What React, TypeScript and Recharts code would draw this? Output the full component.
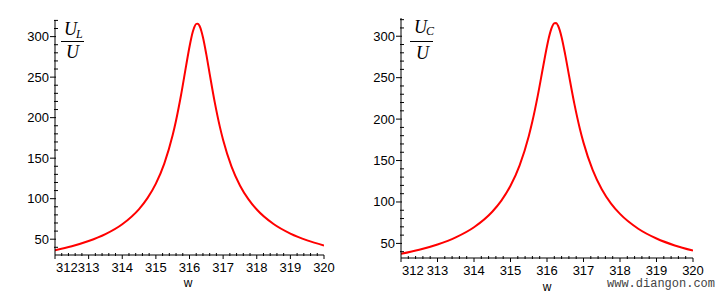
import { LineChart, Line, XAxis, YAxis } from "recharts";

// angular frequency w and the two voltage ratios
const omega = [
  312, 312.5, 313, 313.5, 314, 314.5, 314.75, 315, 315.25, 315.5, 315.6, 315.75, 315.9, 316, 316.05,
  316.1, 316.15, 316.2, 316.25, 316.3, 316.35, 316.4, 316.5, 316.6, 316.75, 316.9, 317, 317.25, 317.5,
  317.75, 318, 318.5, 319, 319.5, 320,
];
const ulRatio = [
  36.4, 41.3, 47.7, 56.3, 68.5, 87.2, 100.7, 118.6, 143.3, 178.5, 196.5, 228.2, 264.2, 287.5, 297.7,
  306.2, 312.4, 315.7, 315.9, 313.1, 307.3, 299.2, 278.0, 254.0, 219.1, 189.2, 172.4, 139.6, 116.3,
  99.4, 86.6, 68.7, 56.9, 48.5, 42.3,
];
const ucRatio = [
  37.4, 42.3, 48.7, 57.3, 69.5, 88.2, 101.6, 119.5, 144.2, 179.4, 197.3, 228.9, 264.7, 287.9, 298.1,
  306.5, 312.5, 315.8, 315.9, 312.9, 307.1, 298.9, 277.5, 253.4, 218.4, 188.4, 171.6, 138.7, 115.4,
  98.4, 85.6, 67.7, 55.9, 47.5, 41.3,
];

const xMajor = [312, 313, 314, 315, 316, 317, 318, 319, 320];
const yMajor = [50, 100, 150, 200, 250, 300];

const xTicks: number[] = [];
for (let i = 0; i <= 40; i++) xTicks.push(Math.round((312 + i * 0.2) * 10) / 10);
const yTicks: number[] = [];
for (let v = 40; v <= 320; v += 10) yTicks.push(v);

const ulData = omega.map((w, i) => ({ w, v: ulRatio[i] }));
const ucData = omega.map((w, i) => ({ w, v: ucRatio[i] }));

const FONT = "'Liberation Sans', Arial, sans-serif";

function XTick(props: any) {
  const { x, y, payload } = props;
  const v = payload.value;
  const major = xMajor.includes(v);
  if (!major) return <line x1={x} x2={x} y1={y - 2} y2={y + 1} stroke="#000" />;
  const first = v === xMajor[0];
  return (
    <g>
      <line x1={x} x2={x} y1={y} y2={y + 4} stroke="#000" />
      <text x={first ? x + 1 : x} y={y + 17} textAnchor={first ? "start" : "middle"}
        fontSize={13} fontFamily={FONT} fill="#000">{v}</text>
    </g>
  );
}

function YTick(props: any) {
  const { x, y, payload } = props;
  const v = payload.value;
  if (!yMajor.includes(v)) return <line x1={x - 1} x2={x + 3} y1={y} y2={y} stroke="#000" />;
  return (
    <g>
      <line x1={x - 5} x2={x + 1} y1={y} y2={y} stroke="#000" />
      <text x={x - 6} y={y + 4.5} textAnchor="end" fontSize={13} fontFamily={FONT} fill="#000">{v}</text>
    </g>
  );
}

function Panel({ data, yw, top, right, bottom, domain }: any) {
  return (
    <LineChart width={361} height={302} data={data} margin={{ top, right, bottom: 0, left: 0 }}>
      <XAxis dataKey="w" type="number" domain={[312, 320]} ticks={xTicks} interval={0}
        height={bottom} tickSize={0} tickMargin={0} tick={<XTick />}
        axisLine={{ stroke: "#000" }} allowDataOverflow />
      <YAxis type="number" domain={domain} ticks={yTicks} interval={0} width={yw}
        tickSize={0} tickMargin={0} tick={<YTick />} axisLine={{ stroke: "#000" }} allowDataOverflow />
      <Line type="monotone" dataKey="v" stroke="#ff0000" strokeWidth={2} dot={false}
        isAnimationActive={false} />
    </LineChart>
  );
}

export default function App() {
  const it = { fontFamily: "'Liberation Serif', serif", fontStyle: "italic" as const };
  return (
    <div style={{ position: "absolute", left: 0, top: 0, width: 722, height: 302, background: "#fff" }}>
      <div style={{ position: "absolute", left: 0, top: 0 }}>
        <Panel data={ulData} yw={55} top={20} right={37} bottom={47} domain={[30.5, 320.5]} />
      </div>
      <div style={{ position: "absolute", left: 361, top: 0 }}>
        <Panel data={ucData} yw={40} top={18} right={29} bottom={44} domain={[32.4, 322]} />
      </div>
      <svg width={722} height={302} style={{ position: "absolute", left: 0, top: 0, pointerEvents: "none" }}>
        <text x={64} y={35} fontSize={18} {...it}>U</text>
        <text x={76} y={38} fontSize={12} {...it}>L</text>
        <line x1={61} x2={84} y1={41.5} y2={41.5} stroke="#000" />
        <text x={66} y={58} fontSize={18} {...it}>U</text>

        <text x={414} y={33} fontSize={18} {...it}>U</text>
        <text x={426} y={35} fontSize={12} {...it}>C</text>
        <line x1={410} x2={433} y1={41.5} y2={41.5} stroke="#000" />
        <text x={416} y={59} fontSize={18} {...it}>U</text>

        <text x={188} y={287} fontSize={12} fontFamily={FONT} textAnchor="middle">w</text>
        <text x={547} y={291} fontSize={12} fontFamily={FONT} textAnchor="middle">w</text>

        <text x={607} y={287} fontSize={12} fontFamily="'Liberation Mono', monospace" fill="#444">www.diangon.com</text>
      </svg>
    </div>
  );
}
